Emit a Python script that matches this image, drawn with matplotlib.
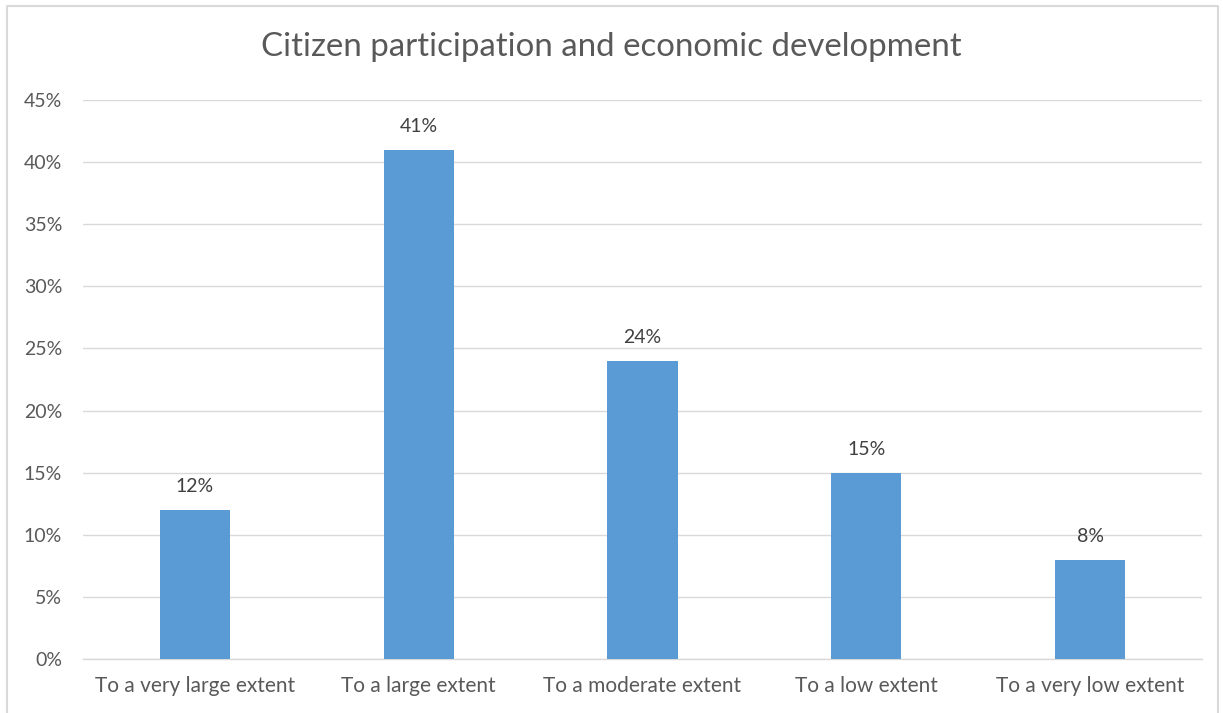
import matplotlib.pyplot as plt
from matplotlib.lines import Line2D

categories = ["To a very large extent", "To a large extent", "To a moderate extent",
              "To a low extent", "To a very low extent"]
values = [12, 41, 24, 15, 8]
yticks = [0, 5, 10, 15, 20, 25, 30, 35, 40, 45]

plt.rcParams['font.family'] = ['Lato', 'DejaVu Sans']
text_color = '#595959'

fig = plt.figure(figsize=(12.23, 7.13), dpi=100)
ax = fig.add_axes([0.0679, 0.0757, 0.9149, 0.784])

x = range(len(categories))
bars = ax.bar(x, values, width=0.313, color='#5B9BD5', zorder=3)
for b, v in zip(bars, values):
    ax.text(b.get_x() + b.get_width() / 2, v + 1.2, f"{v}%",
            ha='center', va='bottom', fontsize=14, color='#404040')

ax.set_xlim(-0.5, len(categories) - 0.5)
ax.set_ylim(0, 45)
ax.set_yticks(yticks)
ax.set_yticklabels([f"{t}%" for t in yticks])
ax.set_xticks(list(x))
ax.set_xticklabels(categories)
ax.tick_params(axis='both', length=0, labelsize=14, colors=text_color)
ax.tick_params(axis='x', labelsize=15, pad=12)
ax.tick_params(axis='y', pad=15)
ax.grid(axis='y', color='#D9D9D9', linewidth=1, zorder=0)
for s in ['top', 'right', 'left']:
    ax.spines[s].set_visible(False)
ax.spines['bottom'].set_color('#D9D9D9')
ax.spines['bottom'].set_linewidth(1)

fig.text(0.5, 1 - 47 / 713, "Citizen participation and economic development",
         ha='center', va='center', fontsize=23.8, color=text_color)

# outer chart border
bx0, bx1 = 7 / 1223, 1218 / 1223
by1 = 1 - 6 / 713
fig.add_artist(Line2D([bx0, bx0, bx1, bx1], [0, by1, by1, 0],
                      transform=fig.transFigure, color='#D9D9D9', linewidth=1.5))

fig.savefig('out.png', dpi=100)
